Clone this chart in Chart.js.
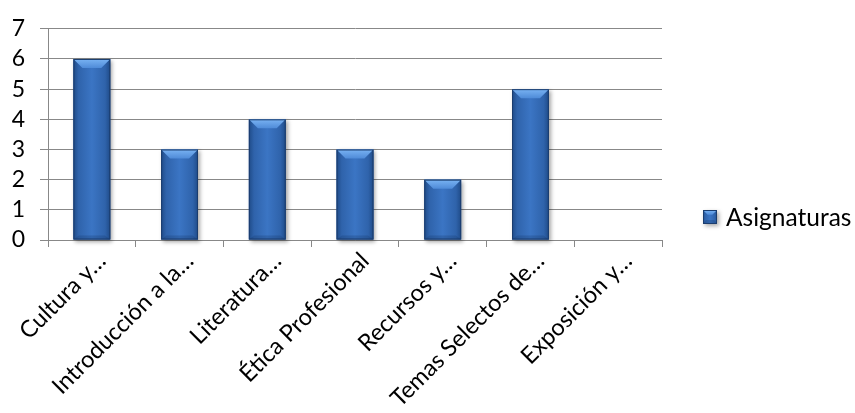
<!DOCTYPE html>
<html>
<head>
<meta charset="utf-8">
<script src="https://cdn.jsdelivr.net/npm/chart.js@4"></script>
<style>
  html, body { margin: 0; padding: 0; background: #fff; }
</style>
</head>
<body>
<canvas id="chart" width="855" height="413"></canvas>
<script>
  // Datos del grafico
  const categories = ["Cultura y…", "Introducción a la…", "Literatura…", "Ética Profesional", "Recursos y…", "Temas Selectos de…", "Exposición y…"];
  const seriesName = "Asignaturas";
  const values = [6, 3, 4, 3, 2, 5, 0];
  const yMin = 0;
  const yMax = 7;
  const yStep = 1;

  const fontFamily = "Lato, 'Open Sans', sans-serif";
  const xFontSize = 23.5;
  const yFontSize = 23;
  const legendFontSize = 24.5;
  const gridColor = "#888888";

  // Relleno con bisel (estilo Excel) sobre cada barra
  function paintBevel(ctx, l, t, r, b) {
    const w = r - l;
    const h = b - t;
    const bv = Math.min(9, h / 2, w / 3);

    ctx.save();
    ctx.shadowColor = "rgba(0,0,0,0.35)";
    ctx.shadowBlur = 4;
    ctx.shadowOffsetX = 2;
    ctx.shadowOffsetY = 2;
    const side = ctx.createLinearGradient(l, 0, r, 0);
    side.addColorStop(0, "#1f4b88");
    side.addColorStop(0.14, "#2f63ab");
    side.addColorStop(0.5, "#3b75c4");
    side.addColorStop(0.86, "#2f63ab");
    side.addColorStop(1, "#1f4b88");
    ctx.fillStyle = side;
    ctx.fillRect(l, t, w, h);
    ctx.restore();

    // bisel superior
    const top = ctx.createLinearGradient(0, t, 0, t + bv);
    top.addColorStop(0, "#79b3f3");
    top.addColorStop(1, "#4f8bd8");
    ctx.fillStyle = top;
    ctx.beginPath();
    ctx.moveTo(l, t);
    ctx.lineTo(r, t);
    ctx.lineTo(r - bv, t + bv);
    ctx.lineTo(l + bv, t + bv);
    ctx.closePath();
    ctx.fill();

    // bisel inferior
    ctx.fillStyle = "rgba(20,50,100,0.25)";
    ctx.beginPath();
    ctx.moveTo(l, b);
    ctx.lineTo(l + bv * 0.6, b - 4);
    ctx.lineTo(r - bv * 0.6, b - 4);
    ctx.lineTo(r, b);
    ctx.closePath();
    ctx.fill();

    ctx.strokeStyle = "#1b3d6e";
    ctx.lineWidth = 1;
    ctx.strokeRect(l + 0.5, t + 0.5, w - 1, h - 1);
  }

  const bevelBars = {
    id: "bevelBars",
    afterDatasetsDraw(chart) {
      const ctx = chart.ctx;
      chart.getDatasetMeta(0).data.forEach((bar) => {
        const p = bar.getProps(["x", "y", "base", "width"], true);
        if (p.base - p.y < 1) return;
        paintBevel(ctx, p.x - p.width / 2, p.y, p.x + p.width / 2, p.base);
      });
    },
  };

  // Leyenda a la derecha
  const sideLegend = {
    id: "sideLegend",
    afterDraw(chart) {
      const ctx = chart.ctx;
      const area = chart.chartArea;
      const bx = area.right + 41;
      const cy = 217;
      const size = 14;
      paintBevel(ctx, bx, cy - size / 2, bx + size, cy + size / 2);
      ctx.save();
      ctx.fillStyle = "#000";
      ctx.font = legendFontSize + "px " + fontFamily;
      ctx.textBaseline = "middle";
      ctx.textAlign = "left";
      ctx.fillText(chart.data.datasets[0].label, bx + size + 9, cy + 1);
      ctx.restore();
    },
  };

  new Chart(document.getElementById("chart"), {
    type: "bar",
    data: {
      labels: categories,
      datasets: [
        {
          label: seriesName,
          data: values,
          backgroundColor: "#3a71c0",
          borderWidth: 0,
          categoryPercentage: 1,
          barPercentage: 0.42,
        },
      ],
    },
    options: {
      responsive: false,
      animation: false,
      layout: { padding: { left: 0, top: 25, right: 193, bottom: 0 } },
      plugins: {
        legend: { display: false },
        tooltip: { enabled: false },
      },
      scales: {
        x: {
          afterFit: (scale) => { scale.height = 173; },
          grid: { offset: true, drawOnChartArea: false, tickLength: 7, color: gridColor },
          border: { color: gridColor },
          ticks: {
            autoSkip: false,
            minRotation: 45,
            maxRotation: 45,
            padding: 0,
            labelOffset: 10,
            color: "#000",
            font: { family: fontFamily, size: xFontSize },
          },
        },
        y: {
          min: yMin,
          max: yMax,
          afterFit: (scale) => { scale.width = 48; },
          grid: { color: gridColor, tickLength: 8 },
          border: { color: gridColor },
          ticks: {
            stepSize: yStep,
            autoSkip: false,
            padding: 15,
            color: "#000",
            font: { family: fontFamily, size: yFontSize },
          },
        },
      },
    },
    plugins: [bevelBars, sideLegend],
  });
</script>
</body>
</html>
